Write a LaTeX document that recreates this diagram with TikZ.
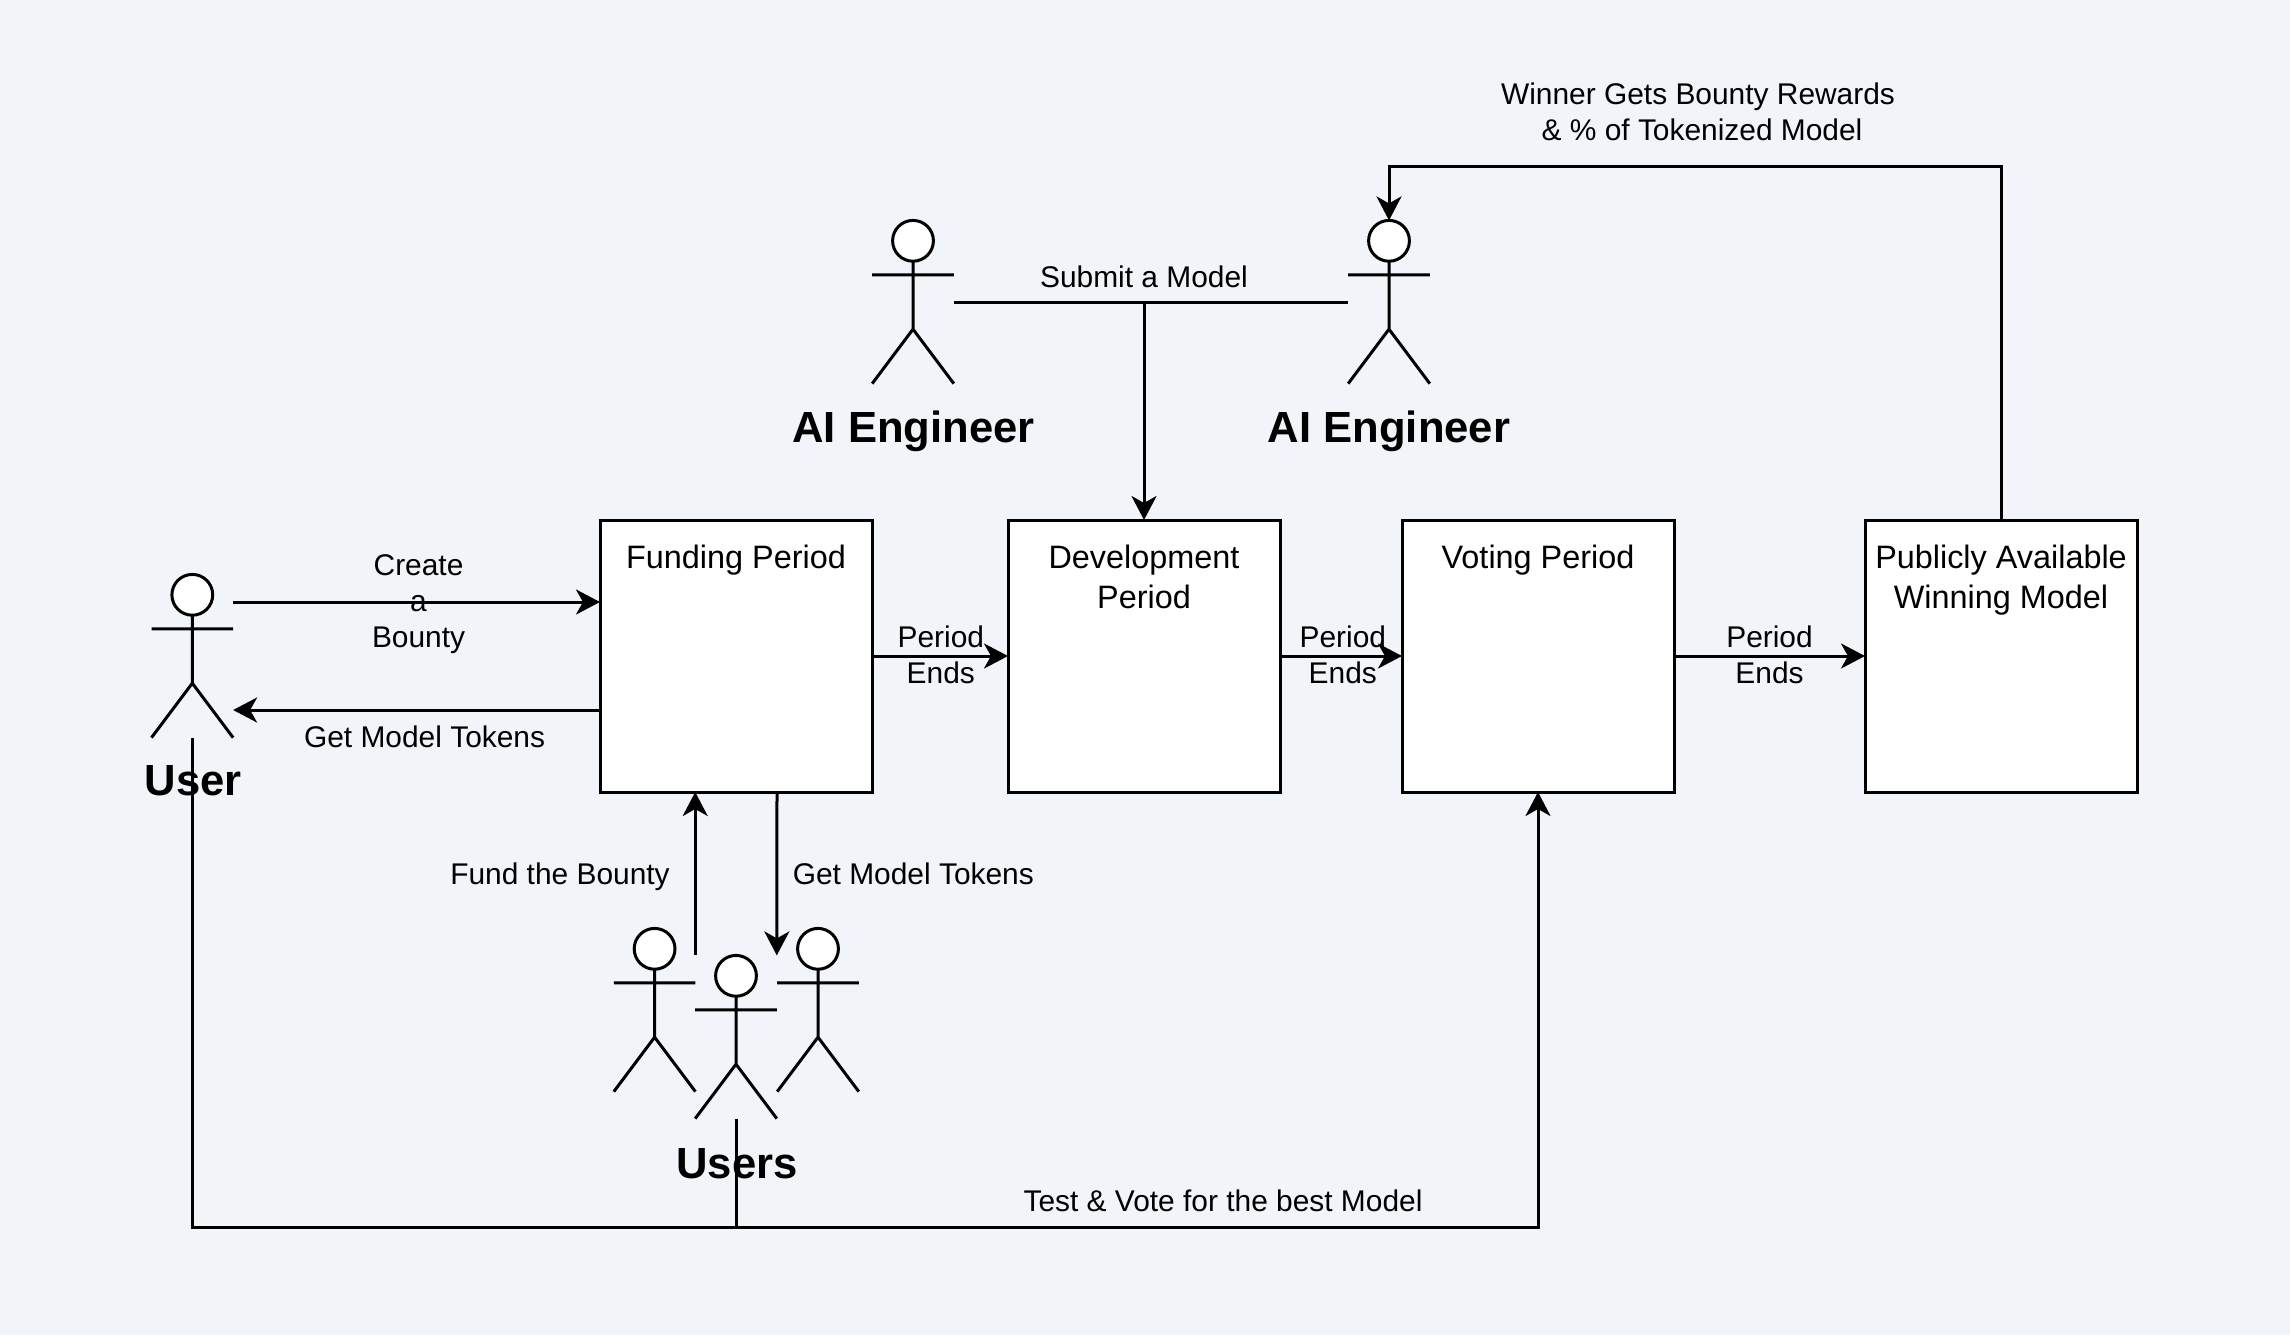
\documentclass[tikz,border=0pt]{standalone}
\usepackage{fontspec}
\setmainfont{Liberation Sans}
\usepackage{tikz}
\usetikzlibrary{arrows.meta,positioning}
\definecolor{pagebg}{RGB}{241,244,249}
\tikzset{
  x=0.5pt, y=-0.5pt,
  linkarrow/.style={-{Stealth[length=12pt,width=12.5pt,inset=3.5pt]}},
  periodbox/.style={draw, fill=white, line width=1.5pt, minimum size=136pt, inner sep=0pt, outer sep=0pt},
  boxtext/.style={font=\fontsize{16.2}{19.7}\selectfont, align=center, inner sep=0pt},
  linktext/.style={font=\fontsize{14.95}{18}\selectfont, align=center, inner sep=0pt},
  actorname/.style={font=\fontsize{21.8}{26}\selectfont\bfseries, inner sep=0pt},
  actorbox/.style={minimum width=40.8pt, minimum height=81.6pt, inner sep=0pt, outer sep=0pt},
  actorfig/.pic={
    \draw[line width=1.5pt, fill=white] (0,-61.2) circle [radius=10.2pt];
    \draw[line width=1.5pt] (0,-40.8) -- (0,27.2) (-40.8,-27.2) -- (40.8,-27.2)
      (-40.8,81.6) -- (0,27.2) -- (40.8,81.6);
  }
}
\begin{document}
\begin{tikzpicture}
  \useasboundingbox (0,0) rectangle (2290,1335);
  \fill[pagebg] (0,0) rectangle (2290,1335);

  \node (fund) [periodbox] at (736,656) {};
  \node (dev) [periodbox] at (1144,656) {};
  \node (vote) [periodbox] at (1538,656) {};
  \node (pub) [periodbox] at (2001,656) {};
  \node (fundtext) [boxtext, below=12.5pt of fund.north] {Funding Period};
  \node (devtext) [boxtext, below=12.5pt of dev.north] {Development\\Period};
  \node (votetext) [boxtext, below=12.5pt of vote.north] {Voting Period};
  \node (pubtext) [boxtext, below=12.5pt of pub.north] {Publicly Available\\Winning Model};

  \foreach \name/\px/\py in {user/192.3/656, usersl/654.6/1010, usersr/818/1010, usersc/736/1037, engl/913/302, engr/1389/302} {
    \node (\name) [actorbox] at (\px,\py) {};
    \pic at (\name) {actorfig};
  }
  \node (username) [actorname] at (193,780.5) {User};
  \node (usersname) [actorname] at (737,1163.5) {Users};
  \node (englname) [actorname] at (913.5,431) {AI Engineer};
  \node (engrname) [actorname] at (1389,431) {AI Engineer};

  \coordinate (busjoin) at (736,1227);
  \coordinate (rewardtop) at (2001,166);

  \path[linkarrow, line width=1.5pt]
  ([yshift=27pt]user.east) edge node [linktext, xshift=1pt, yshift=-1pt] {Create\\a\\Bounty} ([yshift=27pt]user.east -| fund.west)
  ([yshift=-27pt]fund.west) edge node [linktext, below=7.2pt, xshift=4pt] {Get Model Tokens} ([yshift=-27pt]fund.west -| user.east)
  (fund.east) edge node [linktext, yshift=0.7pt, xshift=0.4pt] {Period\\Ends} (dev.west)
  (dev.east) edge node [linktext, yshift=0.7pt, xshift=0.9pt] {Period\\Ends} (vote.west)
  (vote.east) edge node [linktext, yshift=0.7pt] {Period\\Ends} (pub.west)
  (usersc.north west) edge node [linktext, left=12pt, pos=0.5, yshift=-1.5pt] {Fund the Bounty} (usersc.north west |- fund.south)
  ([xshift=20.5pt]fund.south) edge node [linktext, right=7.2pt, pos=0.5] {Get Model Tokens} (usersc.north east)
  ;
  \draw[line width=1.5pt] (engl.east) -- (engr.west);
  \node (submittext) [linktext, above=7pt] at (dev.north |- engl.east) {Submit a Model};
  \draw[linkarrow, line width=1.5pt] (dev.north |- engl.east) -- (dev.north);
  \draw[linkarrow, line width=1.5pt] (pub.north) -- (rewardtop) -- (rewardtop -| engr.north) -- (engr.north);
  \node (rewardtext) [linktext] at (1702,111.5) {Winner Gets Bounty Rewards\hspace*{4pt}\\\& \% of Tokenized Model};
  \draw[line width=1.5pt] (usersc.south) -- (busjoin);
  \draw[linkarrow, line width=1.5pt] (user.south) -- (user.south |- busjoin) -- (vote.south |- busjoin) -- (vote.south);
  \node (votelink) [linktext] at (1223,1201) {Test \& Vote for the best Model};
\end{tikzpicture}
\end{document}
